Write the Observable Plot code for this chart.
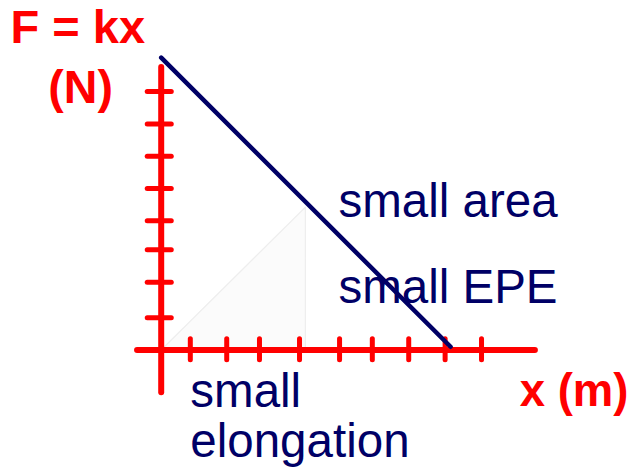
<!DOCTYPE html>
<html>
<head>
<meta charset="utf-8">
<script src="https://cdn.jsdelivr.net/npm/d3@7"></script>
<script src="https://cdn.jsdelivr.net/npm/@observablehq/plot@0.6"></script>
<style>
  html, body { margin: 0; padding: 0; background: #fff; }
  #chart svg { display: block; }
</style>
</head>
<body>
<div id="chart"></div>
<script>
// --- data ---
const xTicks = [0.8, 1.8, 2.7, 3.8, 4.9, 5.8, 6.8, 7.8, 8.8];   // elongation tick positions
const yTicks = [1, 2.1, 3.1, 4, 5, 6, 7, 8];                     // force tick positions
const forceLine = [{x: 0, y: 9.05}, {x: 7.95, y: 0.1}];         // F vs x line
const areaTriangle = [{x: 0, y: 0}, {x: 3.96, y: 4.42}, {x: 3.96, y: 0}]; // shaded area
const xAxisExtent = [-0.65, 10.28];
const yAxisExtent = [-1.32, 8.75];
const titleLabel = "F = kx";
const yUnitLabel = "(N)";
const xUnitLabel = "x (m)";
const areaLabel = "small area";
const epeLabel = "small EPE";
const elongLabel = ["small", "elongation"];

const RED = "#ff0000";
const NAVY = "#000066";
const FONT = "Liberation Sans, Arial, Helvetica, sans-serif";
const k = v => () => v;

function label(text, x, y, fill, size, weight) {
  return Plot.text([{text, x, y}], {x: "x", y: "y", text: "text", fill, fontSize: size, fontWeight: weight, textAnchor: "start", lineAnchor: "bottom"});
}

const chart = Plot.plot({
  width: 634,
  height: 470,
  margin: 0,
  style: {background: "#fff", fontFamily: FONT, overflow: "visible"},
  x: {type: "linear", domain: [0, 10], range: [160.7, 524.7], axis: null},
  y: {type: "linear", domain: [0, 10], range: [349.5, 26.5], axis: null},
  marks: [
    // faint shaded triangle (area under line)
    Plot.areaY(areaTriangle.slice(0, 2), {x: "x", y: "y", fill: "#fbfbfb"}),
    Plot.line(areaTriangle.concat([areaTriangle[0]]), {x: "x", y: "y", stroke: "#eeeeee", strokeWidth: 1.2}),
    // axes
    Plot.ruleY([0], {y: d => d, x1: k(xAxisExtent[0]), x2: k(xAxisExtent[1]), stroke: RED, strokeWidth: 6, strokeLinecap: "round"}),
    Plot.ruleX([0], {x: d => d, y1: k(yAxisExtent[0]), y2: k(yAxisExtent[1]), stroke: RED, strokeWidth: 6, strokeLinecap: "round"}),
    // ticks
    Plot.ruleX(xTicks, {x: d => d, y1: k(-0.32), y2: k(0.33), stroke: RED, strokeWidth: 5, strokeLinecap: "round"}),
    Plot.ruleY(yTicks, {y: d => d, x1: k(-0.37), x2: k(0.29), stroke: RED, strokeWidth: 5, strokeLinecap: "round"}),
    // force line
    Plot.line(forceLine, {x: "x", y: "y", stroke: NAVY, strokeWidth: 4.5, strokeLinecap: "round"}),
    // labels
    label(titleLabel, -4.14, 9.52, RED, 47, "bold"),
    label(yUnitLabel, -3.10, 7.66, RED, 46.5, "bold"),
    label(xUnitLabel, 9.85, -1.72, RED, 45.5, "bold"),
    label(areaLabel, 4.87, 4.13, NAVY, 47.5, "normal"),
    label(epeLabel, 4.87, 1.44, NAVY, 47.5, "normal"),
    label(elongLabel[0], 0.80, -1.77, NAVY, 47.5, "normal"),
    label(elongLabel[1], 0.80, -3.32, NAVY, 47.5, "normal")
  ]
});
document.getElementById("chart").appendChild(chart);
</script>
</body>
</html>
